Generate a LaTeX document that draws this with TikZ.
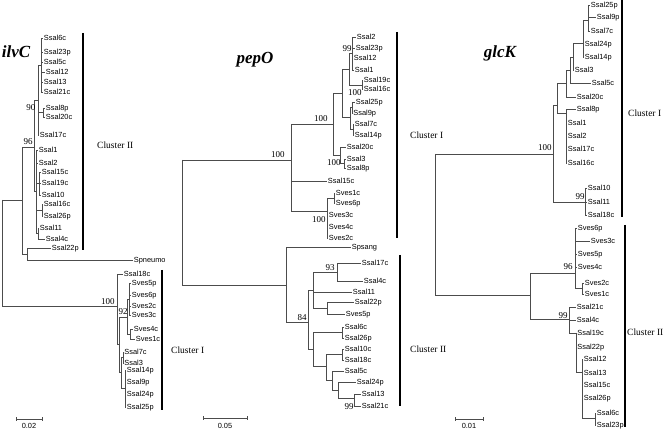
\documentclass[tikz,border=0pt]{standalone}
\usepackage{fontspec}
\setmainfont{Liberation Serif}
\setsansfont{Liberation Sans}
\newcommand\mkleaf[4]{\node[leaf] (#1) at (#2,#3) {#4};}
\newcommand\mkboot[4]{\node[boot] (#1) at (#2,#3) {#4};}
\begin{document}
\begin{tikzpicture}[x=1pt,y=-1pt,
  branch/.style={draw=black!70, line width=0.6pt},
  leaf/.style={anchor=west, inner sep=0.7pt, font=\sffamily\fontsize{7.4}{8}\selectfont, text height=5.3pt, text depth=0pt},
  boot/.style={anchor=east, inner sep=0.3pt, font=\fontsize{9}{10}\selectfont, text height=6pt, text depth=0pt},
  clab/.style={anchor=west, inner sep=0pt, font=\fontsize{9.5}{11}\selectfont},
  clbar/.style={line width=1.8pt, draw=black},
  gtitle/.style={inner sep=0pt, font=\bfseries\itshape\fontsize{17}{20}\selectfont},
  scalebar/.style={draw=black!70, line width=0.6pt},
  scalelab/.style={inner sep=0pt, font=\sffamily\fontsize{7.4}{8}\selectfont, text height=5.3pt, text depth=0pt}]
\useasboundingbox (0,0) rectangle (664,430);

% ================= ilvC =================
\node[gtitle] (tilv) at (16,52) {ilvC};
\mkleaf{i6c}{43}{38}{Ssal6c}
\mkleaf{i23p}{43}{52}{Ssal23p}
\mkleaf{i5c}{43}{62}{Ssal5c}
\mkleaf{i12}{45}{72}{Ssal12}
\mkleaf{i13}{43}{82}{Ssal13}
\mkleaf{i21c}{43}{92}{Ssal21c}
\mkleaf{i8p}{45}{108}{Ssal8p}
\mkleaf{i20c}{45}{117}{Ssal20c}
\mkleaf{i17c}{39}{135}{Ssal17c}
\mkleaf{i1}{38}{150}{Ssal1}
\mkleaf{i2}{38}{163}{Ssal2}
\mkleaf{i15c}{41}{172}{Ssal15c}
\mkleaf{i19c}{41}{183}{Ssal19c}
\mkleaf{i10}{41}{195}{Ssal10}
\mkleaf{i16c}{43}{204}{Ssal16c}
\mkleaf{i26p}{43}{216}{Ssal26p}
\mkleaf{i11}{39}{228}{Ssal11}
\mkleaf{i4c}{45}{239}{Ssal4c}
\mkleaf{i22p}{51}{248}{Ssal22p}
\mkleaf{ispn}{133}{260}{Spneumo}
\mkleaf{i18c}{123}{274}{Ssal18c}
\mkleaf{iv5p}{131}{283}{Sves5p}
\mkleaf{iv6p}{131}{295}{Sves6p}
\mkleaf{iv2c}{131}{306}{Sves2c}
\mkleaf{iv3c}{131}{315}{Sves3c}
\mkleaf{iv4c}{133}{329}{Sves4c}
\mkleaf{iv1c}{135}{339}{Sves1c}
\mkleaf{i7c}{123.5}{352}{Ssal7c}
\mkleaf{i3}{123.5}{363}{Ssal3}
\mkleaf{i14p}{126}{370}{Ssal14p}
\mkleaf{i9p}{126}{382}{Ssal9p}
\mkleaf{i24p}{126}{394}{Ssal24p}
\mkleaf{i25p}{126}{407}{Ssal25p}

\coordinate (iA) at (41.5,65);
\coordinate (iB) at (43,112);
\coordinate (iU) at (38,100);
\coordinate (iN) at (34,147);
\coordinate (iL) at (36,191);
\coordinate (iC) at (39,183);
\coordinate (iD) at (42,210);
\coordinate (iE) at (38,233);
\coordinate (iR2) at (22,200);
\coordinate (iS) at (27,254);
\coordinate (iR) at (2,200);
\coordinate (iCI) at (117,306);
\coordinate (iW) at (119,344);
\coordinate (iV) at (127,317);
\coordinate (iV1) at (129,299);
\coordinate (iV2) at (130,334);
\coordinate (iX) at (121,372);
\coordinate (iX1) at (123,357);
\coordinate (iX2) at (125,388);

\foreach \c in {i6c,i23p,i5c,i12,i13,i21c} \draw[branch] (iA) |- (\c.west);
\foreach \c in {i8p,i20c} \draw[branch] (iB) |- (\c.west);
\draw[branch] (iU) |- (iA);
\draw[branch] (iU) |- (iB);
\draw[branch] (iU) |- (i17c.west);
\draw[branch] (iN) |- (iU);
\draw[branch] (iN) |- (iL);
\foreach \c in {i1,i2} \draw[branch] (iL) |- (\c.west);
\draw[branch] (iL) |- (iC);
\draw[branch] (iL) |- (iD);
\draw[branch] (iL) |- (iE);
\foreach \c in {i15c,i19c,i10} \draw[branch] (iC) |- (\c.west);
\foreach \c in {i16c,i26p} \draw[branch] (iD) |- (\c.west);
\foreach \c in {i11,i4c} \draw[branch] (iE) |- (\c.west);
\draw[branch] (iR2) |- (iN);
\draw[branch] (iR2) |- (iS);
\foreach \c in {i22p,ispn} \draw[branch] (iS) |- (\c.west);
\draw[branch] (iR) |- (iR2);
\draw[branch] (iR) |- (iCI);
\draw[branch] (iCI) |- (i18c.west);
\draw[branch] (iCI) |- (iW);
\draw[branch] (iW) |- (iV);
\draw[branch] (iW) |- (iX);
\draw[branch] (iV) |- (iV1);
\draw[branch] (iV) |- (iV2);
\foreach \c in {iv5p,iv6p,iv2c,iv3c} \draw[branch] (iV1) |- (\c.west);
\foreach \c in {iv4c,iv1c} \draw[branch] (iV2) |- (\c.west);
\draw[branch] (iX) |- (iX1);
\draw[branch] (iX) |- (iX2);
\foreach \c in {i7c,i3} \draw[branch] (iX1) |- (\c.west);
\foreach \c in {i14p,i9p,i24p,i25p} \draw[branch] (iX2) |- (\c.west);

\mkboot{ib90}{36}{108}{90}
\mkboot{ib96}{33}{142}{96}
\mkboot{ib100}{115}{302}{100}
\mkboot{ib92}{128}{312}{92}

\coordinate (ic2a) at (83,33);
\coordinate (ic2b) at (83,250);
\draw[clbar] (ic2a) -- (ic2b);
\node[clab] (ic2l) at (97,145) {Cluster II};
\coordinate (ic1a) at (162,270);
\coordinate (ic1b) at (162,410);
\draw[clbar] (ic1a) -- (ic1b);
\node[clab] (ic1l) at (171,350) {Cluster I};

\coordinate (isa) at (16,419);
\coordinate (isb) at (42,419);
\draw[scalebar] (isa) -- (isb);
\draw[scalebar] ([yshift=2pt]isa) -- ([yshift=-2pt]isa);
\draw[scalebar] ([yshift=2pt]isb) -- ([yshift=-2pt]isb);
\node[scalelab] (ist) at (29,426) {0.02};

% ================= pepO =================
\node[gtitle] (tpep) at (255,60) {pepO};
\mkleaf{p2}{356}{37}{Ssal2}
\mkleaf{p23p}{355}{48}{Ssal23p}
\mkleaf{p12}{353}{58}{Ssal12}
\mkleaf{p1}{354}{70}{Ssal1}
\mkleaf{p19c}{363}{80}{Ssal19c}
\mkleaf{p16c}{363}{89}{Ssal16c}
\mkleaf{p25p}{355}{102}{Ssal25p}
\mkleaf{p9p}{352.5}{113}{Ssal9p}
\mkleaf{p7c}{354}{124}{Ssal7c}
\mkleaf{p14p}{354}{135}{Ssal14p}
\mkleaf{p20c}{346}{147}{Ssal20c}
\mkleaf{p3}{346}{159}{Ssal3}
\mkleaf{p8p}{346}{168}{Ssal8p}
\mkleaf{p15c}{327}{181}{Ssal15c}
\mkleaf{pv1c}{335}{193}{Sves1c}
\mkleaf{pv6p}{335}{203}{Sves6p}
\mkleaf{pv3c}{328}{215}{Sves3c}
\mkleaf{pv4c}{328}{227}{Sves4c}
\mkleaf{pv2c}{328}{238}{Sves2c}
\mkleaf{psp}{351}{247}{Spsang}
\mkleaf{p17c}{361}{263}{Ssal17c}
\mkleaf{p4c}{363}{281}{Ssal4c}
\mkleaf{p11}{352}{292}{Ssal11}
\mkleaf{p22p}{354}{302}{Ssal22p}
\mkleaf{pv5p}{345}{314}{Sves5p}
\mkleaf{p6c}{344}{327}{Ssal6c}
\mkleaf{p26p}{344}{338}{Ssal26p}
\mkleaf{p10c}{344}{349}{Ssal10c}
\mkleaf{p18c}{344}{360}{Ssal18c}
\mkleaf{p5c}{344}{371}{Ssal5c}
\mkleaf{p24p}{356}{382}{Ssal24p}
\mkleaf{p13}{361}{394}{Ssal13}
\mkleaf{p21c}{361}{406}{Ssal21c}

\coordinate (pP1) at (352,53);
\coordinate (pP19) at (362,85);
\coordinate (pP2) at (349,69);
\coordinate (pP4a) at (352,107);
\coordinate (pP4b) at (353,129);
\coordinate (pP4) at (350,117);
\coordinate (pP3) at (342,93);
\coordinate (pP7) at (344,163);
\coordinate (pP6) at (340,155);
\coordinate (pP5) at (333,124);
\coordinate (pP10) at (334,198);
\coordinate (pP9) at (327,211);
\coordinate (pP8) at (291,160);
\coordinate (pR) at (182,160);
\coordinate (pQ1) at (286,285);
\coordinate (pQ2) at (308,322);
\coordinate (pQ3) at (313,290);
\coordinate (pQ3a) at (337,272);
\coordinate (pQ3b) at (327,308);
\coordinate (pQ4) at (313,349);
\coordinate (pQ4a) at (342,332);
\coordinate (pQ4b) at (326,366);
\coordinate (pQ4b1) at (342,354);
\coordinate (pQ4b2) at (332,380);
\coordinate (pQ4b3) at (338,390);
\coordinate (pQ4b4) at (354,398);

\foreach \c in {p2,p23p,p12,p1} \draw[branch] (pP1) |- (\c.west);
\foreach \c in {p19c,p16c} \draw[branch] (pP19) |- (\c.west);
\draw[branch] (pP2) |- (pP1);
\draw[branch] (pP2) |- (pP19);
\foreach \c in {p25p,p9p} \draw[branch] (pP4a) |- (\c.west);
\foreach \c in {p7c,p14p} \draw[branch] (pP4b) |- (\c.west);
\draw[branch] (pP4) |- (pP4a);
\draw[branch] (pP4) |- (pP4b);
\draw[branch] (pP3) |- (pP2);
\draw[branch] (pP3) |- (pP4);
\foreach \c in {p3,p8p} \draw[branch] (pP7) |- (\c.west);
\draw[branch] (pP6) |- (p20c.west);
\draw[branch] (pP6) |- (pP7);
\draw[branch] (pP5) |- (pP3);
\draw[branch] (pP5) |- (pP6);
\foreach \c in {pv1c,pv6p} \draw[branch] (pP10) |- (\c.west);
\draw[branch] (pP9) |- (pP10);
\foreach \c in {pv3c,pv4c,pv2c} \draw[branch] (pP9) |- (\c.west);
\draw[branch] (pP8) |- (pP5);
\draw[branch] (pP8) |- (p15c.west);
\draw[branch] (pP8) |- (pP9);
\draw[branch] (pR) |- (pP8);
\draw[branch] (pR) |- (pQ1);
\draw[branch] (pQ1) |- (psp.west);
\draw[branch] (pQ1) |- (pQ2);
\draw[branch] (pQ2) |- (pQ3);
\draw[branch] (pQ2) |- (pQ4);
\draw[branch] (pQ3) |- (pQ3a);
\draw[branch] (pQ3) |- (p11.west);
\draw[branch] (pQ3) |- (pQ3b);
\foreach \c in {p17c,p4c} \draw[branch] (pQ3a) |- (\c.west);
\foreach \c in {p22p,pv5p} \draw[branch] (pQ3b) |- (\c.west);
\draw[branch] (pQ4) |- (pQ4a);
\draw[branch] (pQ4) |- (pQ4b);
\foreach \c in {p6c,p26p} \draw[branch] (pQ4a) |- (\c.west);
\draw[branch] (pQ4b) |- (pQ4b1);
\draw[branch] (pQ4b) |- (pQ4b2);
\foreach \c in {p10c,p18c} \draw[branch] (pQ4b1) |- (\c.west);
\draw[branch] (pQ4b2) |- (p5c.west);
\draw[branch] (pQ4b2) |- (pQ4b3);
\draw[branch] (pQ4b3) |- (p24p.west);
\draw[branch] (pQ4b3) |- (pQ4b4);
\foreach \c in {p13,p21c} \draw[branch] (pQ4b4) |- (\c.west);

\mkboot{pb99a}{352}{49}{99}
\mkboot{pb100a}{362}{93}{100}
\mkboot{pb100b}{328}{119}{100}
\mkboot{pb100c}{285}{155}{100}
\mkboot{pb100d}{341}{163}{100}
\mkboot{pb100e}{326}{220}{100}
\mkboot{pb93}{335}{268}{93}
\mkboot{pb84}{307}{318}{84}
\mkboot{pb99b}{354}{406}{99}

\coordinate (pc1a) at (397,32);
\coordinate (pc1b) at (397,238);
\draw[clbar] (pc1a) -- (pc1b);
\node[clab] (pc1l) at (410,135) {Cluster I};
\coordinate (pc2a) at (400,255);
\coordinate (pc2b) at (400,406);
\draw[clbar] (pc2a) -- (pc2b);
\node[clab] (pc2l) at (410,349) {Cluster II};

\coordinate (psa) at (203,418);
\coordinate (psb) at (247,418);
\draw[scalebar] (psa) -- (psb);
\draw[scalebar] ([yshift=2pt]psa) -- ([yshift=-2pt]psa);
\draw[scalebar] ([yshift=2pt]psb) -- ([yshift=-2pt]psb);
\node[scalelab] (pst) at (225,426) {0.05};

% ================= glcK =================
\node[gtitle] (tglc) at (500,53) {glcK};
\mkleaf{g25p}{590}{5}{Ssal25p}
\mkleaf{g9p}{596}{17}{Ssal9p}
\mkleaf{g7c}{590}{31}{Ssal7c}
\mkleaf{g24p}{584}{44}{Ssal24p}
\mkleaf{g14p}{584}{57}{Ssal14p}
\mkleaf{g3}{574}{70}{Ssal3}
\mkleaf{g5c}{591}{83}{Ssal5c}
\mkleaf{g20c}{576}{97}{Ssal20c}
\mkleaf{g8p}{576}{109}{Ssal8p}
\mkleaf{g1}{567}{123}{Ssal1}
\mkleaf{g2}{567}{136}{Ssal2}
\mkleaf{g17c}{567}{149}{Ssal17c}
\mkleaf{g16c}{567}{163}{Ssal16c}
\mkleaf{g10}{587}{188}{Ssal10}
\mkleaf{g11}{587}{202}{Ssal11}
\mkleaf{g18c}{587}{215}{Ssal18c}
\mkleaf{gv6p}{577}{228}{Sves6p}
\mkleaf{gv3c}{590}{241}{Sves3c}
\mkleaf{gv5p}{577}{254}{Sves5p}
\mkleaf{gv4c}{577}{267}{Sves4c}
\mkleaf{gv2c}{584}{283}{Sves2c}
\mkleaf{gv1c}{584}{294}{Sves1c}
\mkleaf{g21c}{576}{307}{Ssal21c}
\mkleaf{g4c}{576}{320}{Ssal4c}
\mkleaf{g19c}{576.5}{333}{Ssal19c}
\mkleaf{g22p}{576.5}{347}{Ssal22p}
\mkleaf{g12}{583}{359}{Ssal12}
\mkleaf{g13}{583}{373}{Ssal13}
\mkleaf{g15c}{583}{385}{Ssal15c}
\mkleaf{g26p}{583}{398}{Ssal26p}
\mkleaf{g6c}{596}{413}{Ssal6c}
\mkleaf{g23p}{596}{425}{Ssal23p}

\coordinate (gG1) at (588,20);
\coordinate (gG2) at (583,43);
\coordinate (gG4) at (573,57);
\coordinate (gG5) at (570,70);
\coordinate (gG6) at (566,83);
\coordinate (gG7) at (557,105);
\coordinate (gG8) at (566,113);
\coordinate (gG9) at (553,154);
\coordinate (gG10) at (585,202);
\coordinate (gR) at (435,154);
\coordinate (gH1) at (530,295);
\coordinate (gH2) at (575,273);
\coordinate (gH2b) at (582,288);
\coordinate (gH3) at (569,319);
\coordinate (gH4) at (576,333);
\coordinate (gH5) at (582,372);
\coordinate (gH6) at (595,418);

\foreach \c in {g25p,g9p,g7c} \draw[branch] (gG1) |- (\c.west);
\draw[branch] (gG2) |- (gG1);
\foreach \c in {g24p,g14p} \draw[branch] (gG2) |- (\c.west);
\draw[branch] (gG4) |- (gG2);
\draw[branch] (gG4) |- (g3.west);
\draw[branch] (gG5) |- (gG4);
\draw[branch] (gG5) |- (g5c.west);
\draw[branch] (gG6) |- (gG5);
\draw[branch] (gG6) |- (g20c.west);
\draw[branch] (gG7) |- (gG6);
\draw[branch] (gG7) |- (gG8);
\foreach \c in {g8p,g1,g2,g17c,g16c} \draw[branch] (gG8) |- (\c.west);
\foreach \c in {g10,g11,g18c} \draw[branch] (gG10) |- (\c.west);
\draw[branch] (gG9) |- (gG7);
\draw[branch] (gG9) |- (gG10);
\draw[branch] (gR) |- (gG9);
\draw[branch] (gR) |- (gH1);
\draw[branch] (gH1) |- (gH2);
\draw[branch] (gH1) |- (gH3);
\foreach \c in {gv6p,gv3c,gv5p,gv4c} \draw[branch] (gH2) |- (\c.west);
\draw[branch] (gH2) |- (gH2b);
\foreach \c in {gv2c,gv1c} \draw[branch] (gH2b) |- (\c.west);
\foreach \c in {g21c,g4c} \draw[branch] (gH3) |- (\c.west);
\draw[branch] (gH3) |- (gH4);
\foreach \c in {g19c,g22p} \draw[branch] (gH4) |- (\c.west);
\draw[branch] (gH4) |- (gH5);
\foreach \c in {g12,g13,g15c,g26p} \draw[branch] (gH5) |- (\c.west);
\draw[branch] (gH5) |- (gH6);
\foreach \c in {g6c,g23p} \draw[branch] (gH6) |- (\c.west);

\mkboot{gb100}{552}{148}{100}
\mkboot{gb99a}{585}{197}{99}
\mkboot{gb96}{573}{267}{96}
\mkboot{gb99b}{568}{316}{99}

\coordinate (gc1a) at (622,0);
\coordinate (gc1b) at (622,217);
\draw[clbar] (gc1a) -- (gc1b);
\node[clab] (gc1l) at (628,113) {Cluster I};
\coordinate (gc2a) at (625,225);
\coordinate (gc2b) at (625,427);
\draw[clbar] (gc2a) -- (gc2b);
\node[clab] (gc2l) at (627,332) {Cluster II};

\coordinate (gsa) at (455,419);
\coordinate (gsb) at (483,419);
\draw[scalebar] (gsa) -- (gsb);
\draw[scalebar] ([yshift=2pt]gsa) -- ([yshift=-2pt]gsa);
\draw[scalebar] ([yshift=2pt]gsb) -- ([yshift=-2pt]gsb);
\node[scalelab] (gst) at (469,426) {0.01};
\end{tikzpicture}
\end{document}
